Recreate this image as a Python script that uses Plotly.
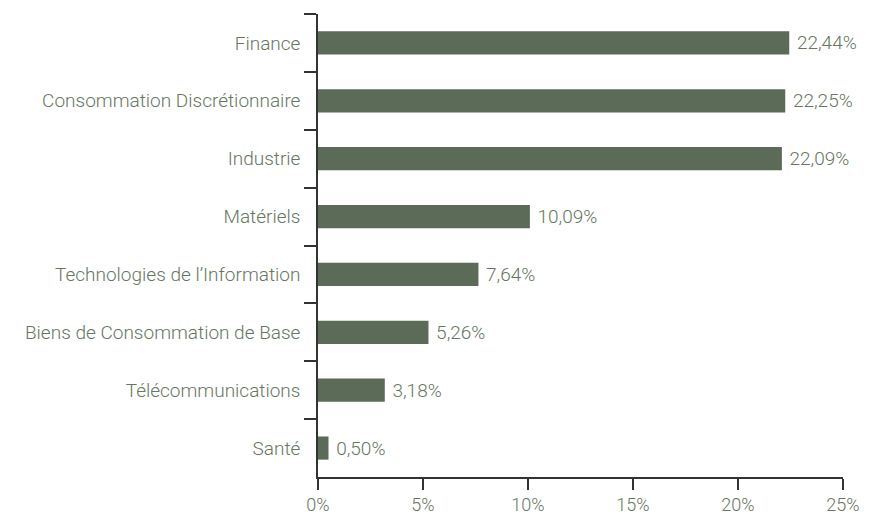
import plotly.graph_objects as go

categories = ["Finance", "Consommation Discrétionnaire", "Industrie", "Matériels",
              "Technologies de l’Information", "Biens de Consommation de Base",
              "Télécommunications", "Santé"]
values = [22.44, 22.25, 22.09, 10.09, 7.64, 5.26, 3.18, 0.50]
labels = ["22,44%", "22,25%", "22,09%", "10,09%", "7,64%", "5,26%", "3,18%", "0,50%"]
xtick_vals = [0, 5, 10, 15, 20, 25]
xtick_text = ["0%", "5%", "10%", "15%", "20%", "25%"]

bar_color = "#5b6b57"
text_color = "#66765f"
axis_color = "#333333"
font_family = "Roboto"
fsize = 19

fig = go.Figure(go.Bar(
    y=categories, x=values, orientation="h",
    marker=dict(color=bar_color, line=dict(width=0)),
    text=labels, texttemplate=" %{text}", textposition="outside", cliponaxis=False,
    textfont=dict(color=text_color, size=fsize, family=font_family, weight=300),
))

fig.update_layout(
    width=864, height=509,
    margin=dict(l=310, r=29, t=6, b=40),
    paper_bgcolor="white", plot_bgcolor="white",
    bargap=0.6, showlegend=False,
    font=dict(family=font_family, color=text_color, size=fsize, weight=300),
)
fig.update_xaxes(range=[0, 25], tickvals=xtick_vals, ticktext=xtick_text,
                 showgrid=False, zeroline=False, showline=True, linecolor=axis_color,
                 linewidth=1.5, ticks="outside", ticklen=11, tickwidth=1.5,
                 tickcolor=axis_color, ticklabelstandoff=0, automargin=False,
                 tickfont=dict(size=18, color=text_color, family=font_family, weight=300))
fig.update_yaxes(categoryorder="array", categoryarray=categories, autorange="reversed",
                 showgrid=False, showline=True, linecolor=axis_color, linewidth=1.5,
                 ticks="outside", ticklen=12, tickwidth=1.5, tickcolor=axis_color,
                 tickson="boundaries", ticklabelstandoff=12, automargin=False,
                 tickfont=dict(size=fsize, color=text_color, family=font_family, weight=300))

fig.write_html("out.html")
